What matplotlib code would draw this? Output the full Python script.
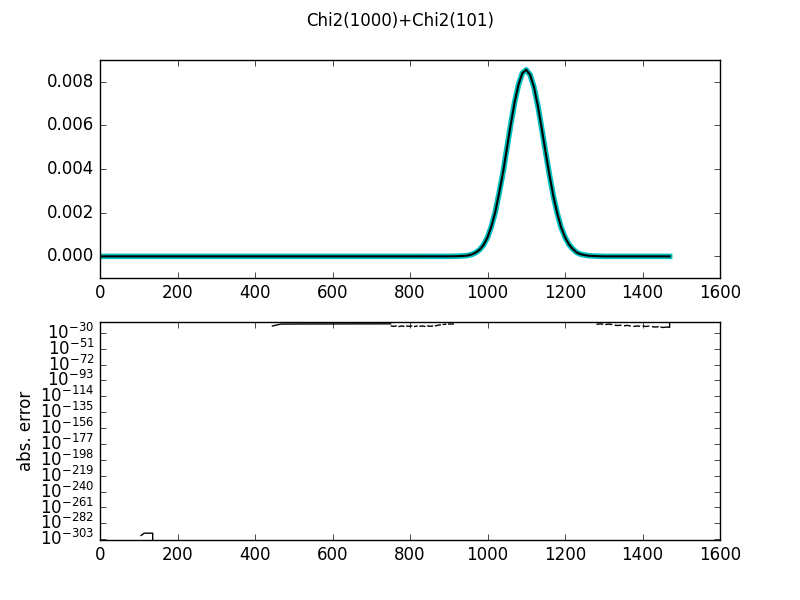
import numpy as np
import matplotlib
matplotlib.use("Agg")
import matplotlib.pyplot as plt

# top panel: density of Chi2(1000)+Chi2(101), exact (cyan) and computed (black)
pdf_x = [0, 100, 200, 300, 400, 500, 600, 700, 800, 900, 920,
         940, 950, 960, 970, 980, 990, 1000, 1010, 1020, 1030, 1040,
         1050, 1060, 1070, 1080, 1090, 1100, 1110, 1120, 1130, 1140,
         1150, 1160, 1170, 1180, 1190, 1200, 1210, 1220, 1230, 1240,
         1250, 1260, 1280, 1300, 1350, 1400, 1470]
pdf_y = [0, 0, 0, 0, 0, 0, 0, 0, 0, 0.000001, 0.000006,
         0.000022, 0.000046, 0.000093, 0.000175, 0.00031, 0.00053, 0.00087,
         0.00137, 0.00203, 0.0029, 0.00384, 0.00495, 0.00605, 0.00706,
         0.00787, 0.00840, 0.00855, 0.00832, 0.00775, 0.00690, 0.00585,
         0.00477, 0.00372, 0.00276, 0.00197, 0.00133, 0.00088, 0.00055,
         0.00034, 0.00018, 0.00010, 0.00006, 0.00003, 0.00001, 0, 0, 0, 0]

# bottom panel: absolute error pieces (nan = gap where the error is zero)
nan = np.nan
err1_x = [106, 114, 136, 136]
err1_y = [1e-298, 1e-295, 1e-295, 1e-310]
err2_x = [445, 466, 500, 550, 600, 650, 700, 750]
err2_y = [1e-21, 3e-19, 4e-19, 5e-19, 5e-19, 6e-19, 6e-19, 7e-19]
err3_x = [752, 758, 764, nan, 772, 778, 784, nan, 792, 798, 804, nan,
          812, 818, nan, 826, 832, 838, nan, 846, 852, 858, nan, 866,
          872, 878, nan, 886, 892, nan, 900, 906, 912]
err3_y = [1e-21, 3e-22, 1e-21, nan, 2e-22, 1e-21, 4e-22, nan, 1e-21,
          3e-22, 8e-22, nan, 2e-22, 1e-21, nan, 5e-22, 1e-21, 3e-22, nan,
          1e-21, 4e-22, 1e-21, nan, 2e-21, 8e-21, 3e-20, nan, 1e-19,
          2e-19, nan, 3e-19, 5e-19, 4e-19]
err4_x = [1283, 1290, 1297, nan, 1306, 1313, 1320, nan, 1330, 1337,
          1344, nan, 1354, 1361, 1368, nan, 1378, 1385, 1392, nan, 1402,
          1409, 1416, nan, 1426, 1433, 1440, nan, 1448, 1455, 1462, 1469,
          1470, 1470]
err4_y = [2e-19, 5e-19, 3e-19, nan, 1e-19, 3e-19, 1e-19, nan, 1e-20,
          4e-21, 1e-20, nan, 2e-21, 6e-21, 1e-21, nan, 3e-22, 1e-21,
          5e-22, nan, 1e-21, 2e-22, 6e-22, nan, 1e-22, 4e-23, 1e-22,
          nan, 3e-23, 1e-23, 4e-23, 2e-23, 2e-23, 3e-16]

err_exps = list(range(-303, -29, 21))

plt.style.use("classic")
plt.rcParams["axes.unicode_minus"] = False
fig = plt.figure(figsize=(8, 6), dpi=100)
fig.suptitle("Chi2(1000)+Chi2(101)")

ax1 = fig.add_subplot(2, 1, 1)
ax1.plot(pdf_x, pdf_y, "c-", lw=4)
ax1.plot(pdf_x, pdf_y, "k-", lw=1.5)
ax1.set_xlim(0, 1600)
ax1.set_ylim(-0.001, 0.009)
ax1.set_yticks([0.0, 0.002, 0.004, 0.006, 0.008])

ax2 = fig.add_subplot(2, 1, 2)
for xs, ys in [(err1_x, err1_y), (err2_x, err2_y),
               (err3_x, err3_y), (err4_x, err4_y)]:
    ax2.plot(xs, ys, "k-")
ax2.set_yscale("log")
ax2.set_xlim(0, 1600)
ax2.set_ylim(10.0 ** -304, 10.0 ** -15.5)
ax2.set_yticks([10.0 ** e for e in err_exps])
ax2.minorticks_off()
ax2.set_ylabel("abs. error")
ax2.yaxis.set_label_coords(-0.105, 0.5)

fig.savefig("out.png", dpi=100, facecolor="white")
